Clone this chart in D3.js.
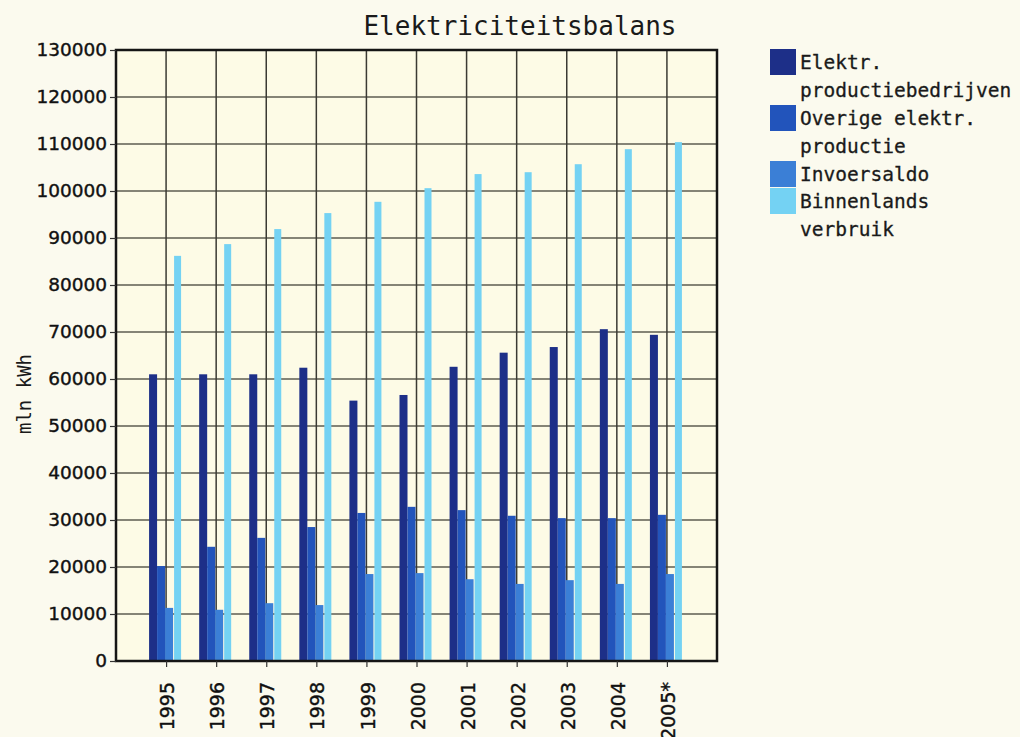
<!DOCTYPE html>
<html>
<head>
<meta charset="utf-8">
<script src="https://cdn.jsdelivr.net/npm/d3@7"></script>
<style>
  html, body { margin: 0; padding: 0; background: #fbfaee; }
  svg { display: block; }
</style>
</head>
<body>
<svg id="chart" width="1020" height="737"></svg>
<script>
// Elektriciteitsbalans, mln kWh
const years = ["1995", "1996", "1997", "1998", "1999", "2000", "2001", "2002", "2003", "2004", "2005*"];
const productiebedrijven = [61000, 61000, 61000, 62400, 55400, 56600, 62600, 65600, 66800, 70600, 69400];
const overigeProductie   = [20200, 24300, 26200, 28500, 31500, 32800, 32100, 30900, 30400, 30400, 31100];
const invoersaldo        = [11300, 10900, 12300, 11900, 18500, 18700, 17400, 16400, 17200, 16400, 18500];
const binnenlandsVerbruik = [86200, 88700, 91900, 95300, 97700, 100600, 103600, 104000, 105700, 108900, 110400];

const seriesNames = ["Elektr. productiebedrijven", "Overige elektr. productie", "Invoersaldo", "Binnenlands verbruik"];
const legendLines = [["Elektr.", "productiebedrijven"], ["Overige elektr.", "productie"], ["Invoersaldo"], ["Binnenlands", "verbruik"]];
const seriesColors = ["#1d2f88", "#2254bb", "#3b7fd6", "#74d2f3"];
const yTicks = [0, 10000, 20000, 30000, 40000, 50000, 60000, 70000, 80000, 90000, 100000, 110000, 120000, 130000];

const seriesValues = [productiebedrijven, overigeProductie, invoersaldo, binnenlandsVerbruik];

const svg = d3.select("#chart");
const margin = { left: 116, right: 303, top: 50, bottom: 76 };
const W = 1020, H = 737;
const plotW = W - margin.left - margin.right;
const plotH = H - margin.top - margin.bottom;

const g = svg.append("g").attr("transform", `translate(${margin.left},${margin.top})`);

const x = d3.scalePoint().domain(years).range([0, plotW]).padding(1);
const y = d3.scaleLinear().domain([0, 130000]).range([plotH, 0]);
const inner = d3.scaleBand().domain(d3.range(seriesNames.length)).range([-17, 15]);

// plot background
g.append("rect").attr("width", plotW).attr("height", plotH).attr("fill", "#fdfbe6");

// horizontal grid
g.append("g").selectAll("line").data(yTicks.filter(d => d > 0 && d < 130000)).join("line")
  .attr("x1", 0).attr("x2", plotW)
  .attr("y1", d => y(d)).attr("y2", d => y(d))
  .attr("stroke", "#5d5c50").attr("stroke-width", 1.5);

// vertical grid at category positions
g.append("g").selectAll("line").data(years).join("line")
  .attr("x1", d => x(d)).attr("x2", d => x(d))
  .attr("y1", 0).attr("y2", plotH)
  .attr("stroke", "#3b3a33").attr("stroke-width", 1.5);

// bars
const rows = years.map((yr, i) => ({ year: yr, vals: seriesValues.map(s => s[i]) }));
const groups = g.append("g").selectAll("g").data(rows).join("g")
  .attr("transform", d => `translate(${x(d.year)},0)`);
groups.selectAll("rect").data(d => d.vals.map((v, k) => ({ k, v }))).join("rect")
  .attr("x", d => inner(d.k) + (d.k === 3 ? 1 : 0))
  .attr("width", d => inner.bandwidth() - (d.k === 3 ? 1 : 0))
  .attr("y", d => y(d.v))
  .attr("height", d => plotH - y(d.v))
  .attr("fill", d => seriesColors[d.k]);

// frame
g.append("rect").attr("width", plotW).attr("height", plotH)
  .attr("fill", "none").attr("stroke", "#151515").attr("stroke-width", 2.5);

// y axis
const yAxis = g.append("g").call(d3.axisLeft(y).tickValues(yTicks).tickSize(6).tickPadding(3).tickFormat(d3.format("d")));
yAxis.select(".domain").remove();
yAxis.selectAll("line").attr("stroke", "#333").attr("stroke-width", 1.2);
yAxis.selectAll("text").attr("font-family", "DejaVu Sans, Verdana, sans-serif")
  .attr("font-size", 18.5).attr("fill", "#111")
  .attr("stroke", "#111").attr("stroke-width", 0.4);

// x axis
const xAxis = g.append("g").attr("transform", `translate(0,${plotH})`)
  .call(d3.axisBottom(x).tickSize(6).tickPadding(0));
xAxis.select(".domain").remove();
xAxis.selectAll("line").attr("stroke", "#333").attr("stroke-width", 1.2);
xAxis.selectAll("text")
  .attr("font-family", "DejaVu Sans, Verdana, sans-serif")
  .attr("font-size", 19).attr("fill", "#111")
  .attr("stroke", "#111").attr("stroke-width", 0.4)
  .attr("text-anchor", "end")
  .attr("transform", "translate(1,21) rotate(-90)")
  .attr("dx", 0).attr("dy", "0.35em").attr("x", 0).attr("y", 0);

// title
svg.append("text").attr("x", 520).attr("y", 35)
  .attr("text-anchor", "middle")
  .attr("font-family", "DejaVu Sans Mono, monospace")
  .attr("font-size", 26).attr("fill", "#1a1a1a")
  .text("Elektriciteitsbalans");

// y axis title
svg.append("text")
  .attr("transform", "translate(31,394) rotate(-90)")
  .attr("text-anchor", "middle")
  .attr("font-family", "DejaVu Sans Mono, monospace")
  .attr("font-size", 19).attr("fill", "#1a1a1a")
  .text("mln kWh");

// legend
const lineH = 28;
let ly = 62;
const legend = svg.append("g");
legendLines.forEach((lines, k) => {
  legend.append("rect").attr("x", 770).attr("y", ly - 13).attr("width", 26).attr("height", 26)
    .attr("fill", seriesColors[k]);
  lines.forEach((t, j) => {
    legend.append("text").attr("x", 800).attr("y", ly + j * lineH)
      .attr("dy", "0.35em")
      .attr("font-family", "DejaVu Sans Mono, monospace")
      .attr("font-size", 19.5).attr("fill", "#1a1a1a")
      .attr("stroke", "#1a1a1a").attr("stroke-width", 0.3)
      .text(t);
  });
  ly += lines.length * lineH - (lines.length === 1 ? 1 : 0);
});
</script>
</body>
</html>
